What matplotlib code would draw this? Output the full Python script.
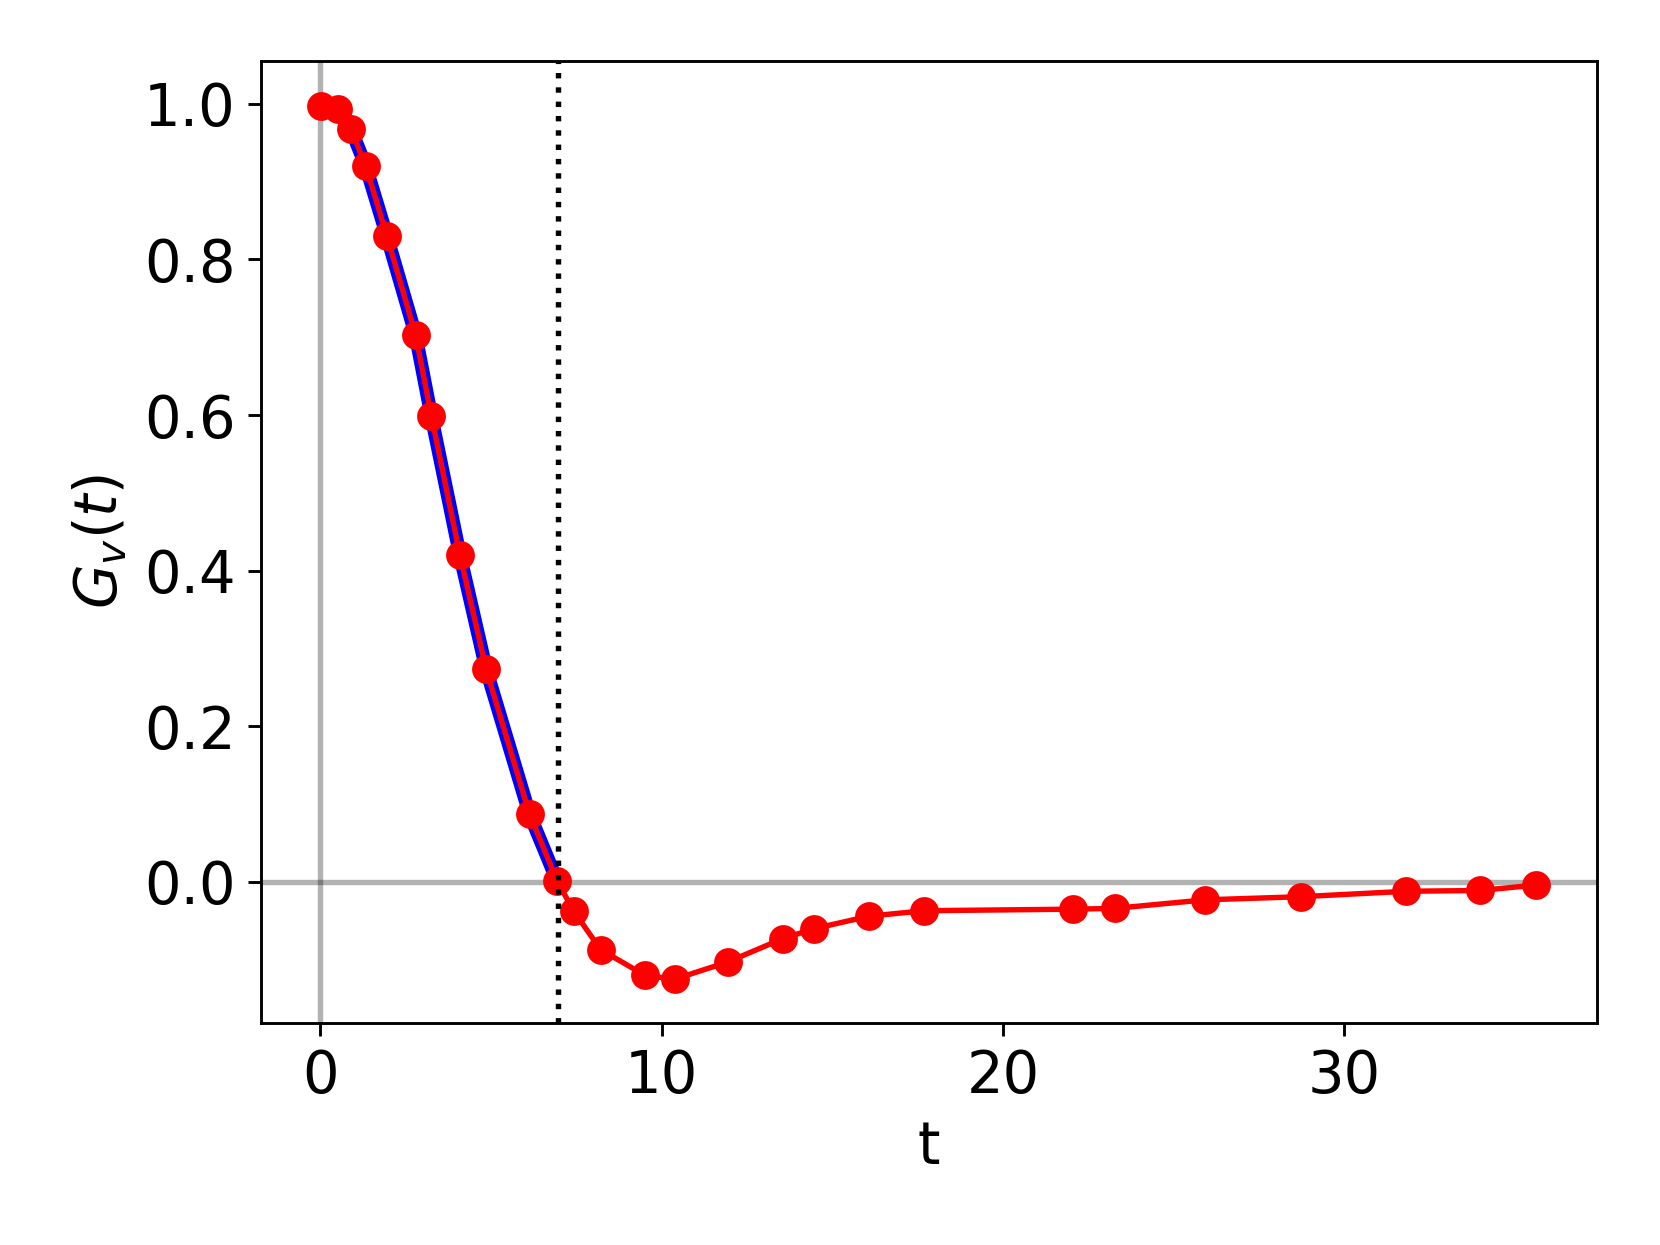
import matplotlib
matplotlib.use("Agg")
import matplotlib.pyplot as plt

# data
t_points = [0.03, 0.53, 0.90, 1.33, 1.95, 2.79, 3.25, 4.09, 4.86, 6.13, 6.94,
            7.43, 8.21, 9.51, 10.38, 11.93, 13.54, 14.47, 16.08, 17.69,
            22.06, 23.27, 25.93, 28.72, 31.82, 33.98, 35.62]
g_points = [0.997, 0.993, 0.967, 0.920, 0.830, 0.703, 0.599, 0.420, 0.273, 0.087, 0.001,
            -0.038, -0.087, -0.120, -0.125, -0.103, -0.073, -0.060, -0.044, -0.037,
            -0.035, -0.034, -0.023, -0.019, -0.012, -0.011, -0.004]
t_theory = [0.0, 0.53, 0.90, 1.33, 1.95, 2.79, 3.25, 4.09, 4.86, 6.13, 6.94]
g_theory = [1.0, 0.993, 0.967, 0.920, 0.830, 0.703, 0.599, 0.420, 0.273, 0.087, 0.001]
t_zero = 6.97

fig = plt.figure(figsize=(6.4, 4.8), dpi=259.375)
ax = fig.add_axes([0.157, 0.1785, 0.805, 0.7725])

ax.axhline(0, color='k', alpha=0.3, lw=1.5, zorder=1)
ax.axvline(0, color='k', alpha=0.3, lw=1.5, zorder=1)
ax.plot(t_theory, g_theory, color='blue', lw=3.8, zorder=2)
ax.plot(t_points, g_points, color='red', lw=1.5, marker='o', ms=7, zorder=3)
ax.axvline(t_zero, color='k', ls=':', lw=1.5, zorder=4)

ax.set_xlim(-1.75, 37.4)
ax.set_ylim(-0.181, 1.055)
ax.set_xticks([0, 10, 20, 30])
ax.set_yticks([0.0, 0.2, 0.4, 0.6, 0.8, 1.0])
ax.tick_params(labelsize=16)
ax.set_xlabel('t', fontsize=16)
ax.set_ylabel('$G_v(t)$', fontsize=16)

fig.savefig('out.png', dpi=259.375)
